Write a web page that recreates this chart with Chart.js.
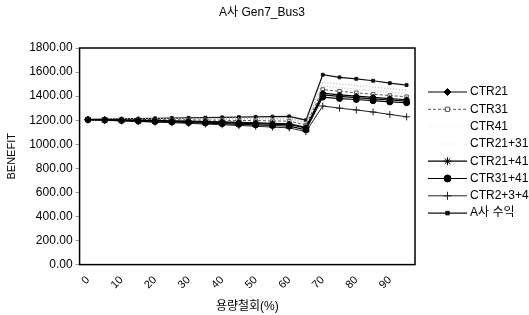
<!DOCTYPE html>
<html>
<head>
<meta charset="utf-8">
<script src="https://cdn.jsdelivr.net/npm/chart.js@4"></script>
<style>
  body { margin: 0; background: #fff; }
  #wrap { width: 529px; height: 315px; }
</style>
</head>
<body>
<div id="wrap"><canvas id="grafico"></canvas></div>
<script>
// 용량철회(%) - x축 카테고리
const categorias = ["0","5","10","15","20","25","30","35","40","45","50","55","60","65","70","75","80","85","90","95"];

// 각 시리즈 값 (BENEFIT)
const ctr21    = [1205,1204,1202,1200,1198,1195,1192,1189,1186,1182,1178,1174,1170,1140,1425,1410,1400,1390,1380,1370];
const ctr31    = [1206,1206,1205,1205,1204,1203,1202,1201,1200,1198,1196,1194,1192,1160,1455,1440,1428,1415,1405,1395];
const ctr41    = [1207,1208,1209,1210,1211,1212,1213,1214,1215,1216,1216,1217,1218,1180,1515,1500,1488,1475,1462,1450];
const ctr2131  = [1206,1207,1207,1208,1208,1209,1209,1210,1210,1210,1210,1210,1210,1170,1485,1470,1458,1445,1432,1420];
const ctr2141  = [1205,1203,1200,1197,1194,1191,1188,1184,1180,1176,1172,1168,1164,1135,1410,1398,1388,1378,1368,1358];
const ctr3141  = [1204,1201,1197,1193,1189,1185,1181,1176,1171,1166,1161,1156,1150,1120,1392,1380,1372,1362,1352,1345];
const ctr234   = [1203,1199,1194,1189,1184,1179,1174,1168,1162,1156,1150,1143,1136,1105,1318,1300,1285,1268,1248,1228];
const aSuik    = [1208,1210,1212,1214,1216,1218,1220,1222,1224,1226,1228,1230,1232,1200,1578,1556,1544,1528,1508,1492];

const yTicks = [0,200,400,600,800,1000,1200,1400,1600,1800];

const titulo = "A사 Gen7_Bus3";
const fuente = "'Liberation Sans', 'Noto Sans CJK KR', sans-serif";

function serie(label, data, color, estilo, radio, relleno, dash, ancho, colorLeyenda) {
  return {
    label: label,
    data: data,
    borderColor: color,
    backgroundColor: relleno,
    pointBackgroundColor: relleno,
    pointBorderColor: color,
    pointStyle: estilo,
    pointRadius: radio,
    pointBorderWidth: 1,
    borderWidth: ancho,
    borderDash: dash,
    tension: 0,
    colorLeyenda: colorLeyenda
  };
}

const datasets = [
  serie("CTR21", ctr21, "#000", "rectRot", 3, "#000", [], 1.2, "#000"),
  serie("CTR31", ctr31, "#555", "rect", 2.5, "#fff", [3, 2], 1, "#555"),
  serie("CTR41", ctr41, "#c0c0c0", false, 0, "#c0c0c0", [1, 2], 1.5, "#f2f2f2"),
  serie("CTR21+31", ctr2131, "#cccccc", false, 0, "#cccccc", [1, 2], 1.5, "#f2f2f2"),
  serie("CTR21+41", ctr2141, "#000", "star", 3.5, "#000", [], 1.2, "#000"),
  serie("CTR31+41", ctr3141, "#000", "circle", 3, "#000", [], 1.2, "#000"),
  serie("CTR2+3+4", ctr234, "#222", "cross", 3.5, "#222", [], 1, "#222"),
  serie("A사 수익", aSuik, "#111", "rect", 2, "#111", [], 1.2, "#111")
];

// 제목, 테두리, 범례(선 + 마커)
const marcoYLeyenda = {
  id: "marcoYLeyenda",
  afterDraw(chart) {
    const ctx = chart.ctx;
    const a = chart.chartArea;
    ctx.save();
    ctx.strokeStyle = "#000";
    ctx.lineWidth = 1.5;
    ctx.strokeRect(a.left, a.top, a.right - a.left, a.bottom - a.top);

    ctx.fillStyle = "#000";
    ctx.font = "12px " + fuente;
    ctx.textAlign = "center";
    ctx.textBaseline = "middle";
    ctx.fillText(titulo, 262, 13);

    const x0 = 428, x1 = 467, yIni = 92, paso = 17.3;
    ctx.textAlign = "left";
    chart.data.datasets.forEach(function (ds, i) {
      const y = yIni + i * paso;
      ctx.strokeStyle = ds.colorLeyenda;
      ctx.lineWidth = ds.borderWidth;
      ctx.setLineDash(ds.borderDash);
      ctx.beginPath();
      ctx.moveTo(x0, y);
      ctx.lineTo(x1, y);
      ctx.stroke();
      ctx.setLineDash([]);
      if (ds.pointStyle) {
        ctx.fillStyle = ds.pointBackgroundColor;
        ctx.strokeStyle = ds.pointBorderColor;
        ctx.lineWidth = 1;
        Chart.helpers.drawPoint(ctx, { pointStyle: ds.pointStyle, radius: ds.pointRadius + 0.5, borderWidth: 1 }, (x0 + x1) / 2, y);
      }
      ctx.fillStyle = "#000";
      ctx.fillText(ds.label, x1 + 3, y);
    });
    ctx.restore();
  }
};

new Chart(document.getElementById("grafico"), {
  type: "line",
  data: { labels: categorias, datasets: datasets },
  plugins: [marcoYLeyenda],
  options: {
    responsive: true,
    maintainAspectRatio: false,
    animation: false,
    layout: { padding: { left: 5, right: 114, top: 48, bottom: 1 } },
    plugins: {
      legend: { display: false },
      tooltip: { enabled: false },
      title: { display: false }
    },
    scales: {
      x: {
        offset: true,
        grid: { display: false },
        border: { display: false },
        ticks: {
          color: "#000",
          font: { family: fuente, size: 11 },
          autoSkip: false,
          minRotation: 45,
          maxRotation: 45,
          padding: 1,
          callback: function (v, i) { return i % 2 === 0 ? categorias[i] : ""; }
        },
        title: {
          display: true,
          text: "용량철회(%)",
          color: "#000",
          font: { family: fuente, size: 12 },
          padding: { top: 7, bottom: 0 }
        }
      },
      y: {
        min: 0,
        max: 1800,
        afterBuildTicks: function (axis) { axis.ticks = yTicks.map(function (v) { return { value: v }; }); },
        grid: { display: true, drawOnChartArea: false, drawTicks: true, tickLength: 4, color: "#999" },
        border: { display: false },
        ticks: {
          color: "#000",
          font: { family: fuente, size: 12 },
          padding: 3,
          callback: function (v) { return Number(v).toFixed(2); }
        },
        title: {
          display: true,
          text: "BENEFIT",
          color: "#000",
          font: { family: fuente, size: 11 },
          padding: { top: 0, bottom: 8 }
        }
      }
    }
  }
});
</script>
</body>
</html>
